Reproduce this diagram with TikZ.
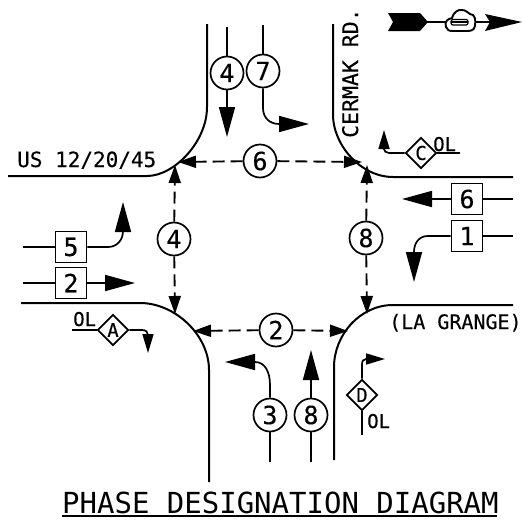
\documentclass[tikz,border=0pt]{standalone}
\usepackage{fontspec}
\setmainfont{DejaVu Sans Mono}[BoldFont=DejaVu Sans Mono,BoldFeatures={FakeBold=0.25}]
\usetikzlibrary{shapes.geometric,arrows.meta}
\tikzset{
 road/.style={line width=2pt},
 lane/.style={line width=1.7pt},
 big/.style={lane,-{Triangle[length=30pt,width=16pt]}},
 mid/.style={lane,-{Triangle[length=19pt,width=11pt]}},
 phasehead/.style={line width=1.9pt,dash pattern=on 12pt off 6pt,-{Triangle[length=18pt,width=12pt]}},
 circ/.style={circle,draw,fill=white,line width=1.7pt,minimum size=33pt,inner sep=0pt,font=\bfseries\fontsize{25}{25}\selectfont},
 sq/.style={rectangle,draw,fill=white,line width=1.8pt,minimum size=31pt,inner sep=0pt,font=\bfseries\fontsize{25}{25}\selectfont},
 dia/.style={diamond,draw,fill=white,line width=1.7pt,minimum size=31pt,inner sep=0pt,font=\bfseries\fontsize{19}{19}\selectfont},
 lab/.style={inner sep=0pt,anchor=base west,font=\bfseries\fontsize{21}{21}\selectfont},
}
\begin{document}
\begin{tikzpicture}[x=1pt,y=-1pt]
\useasboundingbox (0,0) rectangle (522,522);
% roads
\draw[road] (8,176) -- (147,176) .. controls (174,176) and (207,142) .. (207,107) -- (207,24);
\draw[road] (333,24) -- (333,115) .. controls (333,144) and (360,177) .. (393,177) -- (513,177);
\draw[road] (21,303) -- (140,303) .. controls (175,303) and (209,335) .. (209,370) -- (209,482);
\draw[road] (513,305) -- (393,305) .. controls (360,305) and (334,335) .. (334,367) -- (334,460);
% phase nodes
\node[circ] (p6) at (260,161) {6};
\node[circ] (p4) at (174,239) {4};
\node[circ] (p8) at (366,238) {8};
\node[circ] (p2) at (276,330) {2};
\coordinate (t6l) at (178,162); \coordinate (t6r) at (362,162);
\coordinate (t4t) at (175,165); \coordinate (t4b) at (175,314);
\coordinate (t8t) at (367,165); \coordinate (t8b) at (367,314);
\coordinate (t2l) at (193,331); \coordinate (t2r) at (348,331);
\draw[phasehead] (p6) -- (t6l);
\draw[phasehead] (p6) -- (t6r);
\draw[phasehead] (p4) -- (t4t);
\draw[phasehead] (p4) -- (t4b);
\draw[phasehead] (p8) -- (t8t);
\draw[phasehead] (p8) -- (t8b);
\draw[phasehead] (p2) -- (t2l);
\draw[phasehead] (p2) -- (t2r);
% top movements
\node[circ] (m4) at (227,73) {4};
\node[circ] (m7) at (263,71) {7};
\coordinate (s4) at (227,27); \coordinate (e4) at (227,137);
\coordinate (s7) at (263,25); \coordinate (e7) at (309,124);
\draw[lane] (s4) -- (m4);
\draw[big] (m4) -- (e4);
\draw[lane] (s7) -- (m7);
\draw[big] (m7) -- (263,108) .. controls (263,118) and (270,124) .. (279,124) -- (e7);
% bottom movements
\node[circ] (m3) at (270,415) {3};
\node[circ] (m8) at (311,415) {8};
\coordinate (s3) at (270,462); \coordinate (e3) at (225,362);
\coordinate (s8) at (311,462); \coordinate (e8) at (311,350);
\draw[lane] (s3) -- (m3);
\draw[big] (m3) -- (270,385) .. controls (270,372) and (265,362) .. (255,362) -- (e3);
\draw[lane] (s8) -- (m8);
\draw[big] (m8) -- (e8);
% left movements
\node[sq] (s5) at (71,247) {5};
\node[sq] (s2) at (71,283) {2};
\coordinate (l5) at (23,247); \coordinate (e5) at (123,202);
\coordinate (l2) at (23,283); \coordinate (e2) at (135,283);
\draw[lane] (l5) -- (s5);
\draw[big] (s5) -- (108,247) .. controls (117,247) and (123,240) .. (123,231) -- (e5);
\draw[lane] (l2) -- (s2);
\draw[big] (s2) -- (e2);
% right movements
\node[sq] (s6) at (467,199) {6};
\node[sq] (s1) at (467,236) {1};
\coordinate (r6) at (513,199); \coordinate (e6) at (402,199);
\coordinate (r1) at (513,236); \coordinate (e1) at (414,282);
\draw[lane] (r6) -- (s6);
\draw[big] (s6) -- (e6);
\draw[lane] (r1) -- (s1);
\draw[big] (s1) -- (428,236) .. controls (419,236) and (414,243) .. (414,252) -- (e1);
% overlap movements
\node[dia] (dA) at (113,330) {A};
\coordinate (oa) at (72,330); \coordinate (ea) at (148,353);
\draw[lane] (oa) -- (dA);
\draw[mid] (dA) -- (142,330) .. controls (146,330) and (148,332) .. (148,335) -- (ea);
\node[dia] (dC) at (421,153) {C};
\coordinate (oc) at (460,153); \coordinate (ec) at (384,130);
\draw[lane] (oc) -- (dC);
\draw[mid] (dC) -- (389,153) .. controls (386,153) and (384,151) .. (384,149) -- (ec);
\node[dia] (dD) at (362,395) {D};
\coordinate (od) at (362,435); \coordinate (ed) at (385,359);
\draw[lane] (od) -- (dD);
\draw[mid] (dD) -- (362,365) .. controls (362,361) and (363,359) .. (366,359) -- (ed);
% labels
\node[lab] (us) at (17,167) {US 12/20/45};
\node[lab,font=\bfseries\fontsize{20}{20}\selectfont] (lg) at (389,329) {(LA GRANGE)};
\node[lab,rotate=90,font=\bfseries\fontsize{21.5}{21.5}\selectfont] (cm) at (358,138) {CERMAK RD.};
\node[lab,font=\bfseries\fontsize{19}{19}\selectfont] (ola) at (73,326) {OL};
\node[lab,font=\bfseries\fontsize{19}{19}\selectfont] (olc) at (433,151) {OL};
\node[lab,font=\bfseries\fontsize{19}{19}\selectfont] (old) at (367,428) {OL};
\node[lab,font=\fontsize{29}{29}\selectfont\mdseries] (ttl) at (62,513) {PHASE DESIGNATION DIAGRAM};
\coordinate (ula) at (62,516); \coordinate (ulb) at (497,516);
\draw[line width=1.8pt] (ula) -- (ulb);
% north arrow
\fill (388,13) -- (420,13) -- (428,22) -- (420,31) -- (388,31) -- (393,22) -- cycle;
\draw[lane] (425,22) -- (446,22);
\draw[lane] (475,22) -- (490,22);
\fill (485,14) -- (522,22) -- (485,31) -- (490,22) -- cycle;
\draw[line width=1.9pt,fill=white] (446,27) .. controls (444,21) and (448,19) .. (452,18)
 .. controls (453,13) and (458,9) .. (462,10) .. controls (466,10) and (468,13) .. (470,14)
 .. controls (475,14) and (476,20) .. (475,26) .. controls (474,31) and (470,31) .. (466,31)
 -- (453,31) .. controls (449,31) and (447,30) .. (446,27) -- cycle;
\draw[line width=1.2pt,rounded corners=2pt] (451,19.5) rectangle (468,25);
\draw[line width=1.2pt] (451,22) -- (468,22);
\end{tikzpicture}
\end{document}
